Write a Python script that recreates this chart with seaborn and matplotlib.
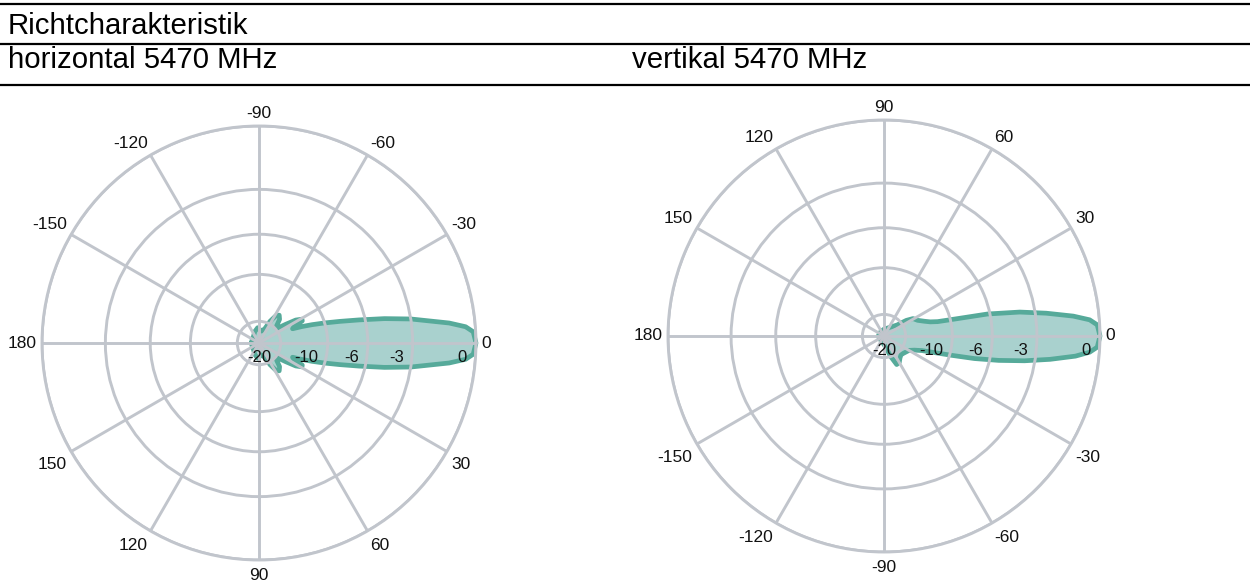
import numpy as np
import matplotlib
matplotlib.use("Agg")
import matplotlib.pyplot as plt
import seaborn as sns
from matplotlib.lines import Line2D

# horizontal 5470 MHz -- angle (deg) and gain (dB), negative angles point up
h_angle = [-180, -150, -130, -110, -95, -78, -68, -63, -58, -54, -49, -44, -39, -35, -32,
           -29, -27, -25, -23, -21, -19, -17, -15, -13, -11, -9, -6, -4.5, -3, 0,
           3, 4.5, 6, 9, 11, 13, 15, 17, 19, 21, 23, 25, 27, 29, 32, 35, 39, 44, 49,
           54, 58, 63, 68, 78, 95, 110, 130, 150, 180]
h_db = [-29, -29, -28, -25, -23, -25, -23, -19, -16.5, -16, -16.8, -19, -19.5, -16.5, -14,
        -12.9, -13, -15, -15.5, -13.5, -11.7, -10, -8.3, -6.5, -4.6, -3.0, -1.1, -0.4, -0.1, 0,
        -0.1, -0.4, -1.1, -3.0, -4.6, -6.5, -8.3, -10, -11.7, -13.5, -15.5, -15, -13, -12.9, -14,
        -16.5, -19.5, -19, -16.8, -16, -16.5, -19, -23, -25, -23, -25, -28, -29, -29]

# vertikal 5470 MHz -- positive angles point up
v_angle = [-180, -150, -120, -90, -80, -72, -66, -60, -54, -48, -42, -36, -30, -25, -21,
           -18, -16, -14, -12, -10, -8, -6, -4.5, -3, 0, 3, 4.5, 6, 8, 10, 12, 13.5, 15, 17, 20,
           25, 31, 35, 40, 50, 60, 90, 120, 150, 180]
v_db = [-32, -32, -32, -28, -25, -20, -16.8, -17, -18, -18.6, -18.4, -18, -17.5, -16.2,
        -14.5, -12, -9.8, -7.3, -5.3, -3.6, -2.2, -1.0, -0.4, -0.1, 0, -0.1, -0.4, -1.1, -2.4,
        -3.9, -6.2, -9.5, -11.8, -13, -14, -15.3, -16.1, -18, -22, -25, -27, -30, -32, -32, -32]

ring_db = [-20, -10, -6, -3, 0]
ring_labels = ["-20", "-10", "-6", "-3", "0"]
theta_ticks = list(range(0, 360, 30))
theta_labels = [str(a if a <= 180 else a - 360) for a in theta_ticks]

LINE = "#56aa9a"
FILL = "#a9d1ce"
GRID = "#c1c5cc"
TXT = "#111111"

sns.set_theme(style="white")
plt.rcParams['font.family'] = ['Liberation Sans', 'DejaVu Sans']
plt.rcParams['text.color'] = "black"


def to_amp(db):
    # radial axis is linear in field strength
    return 10 ** (np.asarray(db, dtype=float) / 20.0)


def polar_panel(fig, rect, angles, db, direction):
    ax = fig.add_axes(rect, projection="polar")
    ax.set_theta_zero_location("E")
    ax.set_theta_direction(direction)
    th = np.deg2rad(angles)
    r = to_amp(db)
    ax.fill(th, r, color=FILL, zorder=1)
    sns.lineplot(x=th, y=r, sort=False, ax=ax, color=LINE, lw=3.4, zorder=2,
                 estimator=None)
    for l in ax.lines:
        l.set_clip_on(False)
    ax.set_ylim(0, 1)
    ax.set_rgrids(to_amp(ring_db), labels=[""] * len(ring_db))
    ax.set_thetagrids(theta_ticks, [""] * len(theta_ticks))
    ax.grid(True, color=GRID, lw=2.1)
    ax.spines["polar"].set_color(GRID)
    ax.spines["polar"].set_linewidth(2.1)
    ax.set_axisbelow(False)
    ax.set_xlabel("")
    ax.set_ylabel("")

    # angle labels just outside the rim
    pad = 3.6
    for a, lab in zip(theta_ticks, theta_labels):
        phi = np.deg2rad(a * direction)
        c, s = np.cos(phi), np.sin(phi)
        ha = "left" if c > 0.3 else ("right" if c < -0.3 else "center")
        va = "bottom" if s > 0.3 else ("top" if s < -0.3 else "center")
        extra = -2.2 if va == "top" else 0
        ax.annotate(lab, xy=(np.deg2rad(a), 1.0), xytext=(pad * c, pad * s + extra),
                    textcoords="offset points", ha=ha, va=va, fontsize=12.5,
                    color=TXT, annotation_clip=False)

    # dB ring labels below the 0 deg spoke
    for rv, lab in zip(to_amp(ring_db), ring_labels):
        ax.annotate(lab, xy=(0, rv), xytext=(-6.5, -10.5), textcoords="offset points",
                    ha="right", va="center", fontsize=12, color=TXT, zorder=5)
    return ax


fig = plt.figure(figsize=(12.5, 5.86), dpi=100)

# header rules and titles
for y in [1 - 4 / 586, 1 - 43.7 / 586, 1 - 85 / 586]:
    fig.add_artist(Line2D([0, 1], [y, y], color="black", lw=1.6, transform=fig.transFigure))
fig.text(8 / 1250, 1 - 34.3 / 586, "Richtcharakteristik", fontsize=21.2, va="baseline",
         ha="left", color="black")
fig.text(8 / 1250, 1 - 68.3 / 586, "horizontal 5470 MHz", fontsize=21.2, va="baseline",
         ha="left", color="black")
fig.text(632 / 1250, 1 - 68.3 / 586, "vertikal 5470 MHz", fontsize=21.2, va="baseline",
         ha="left", color="black")

polar_panel(fig, [(259 - 217) / 1250, (243 - 217) / 586, 434 / 1250, 434 / 586],
            h_angle, h_db, -1)
polar_panel(fig, [(884 - 216) / 1250, (250 - 216) / 586, 432 / 1250, 432 / 586],
            v_angle, v_db, 1)

fig.savefig("out.png", dpi=100)
